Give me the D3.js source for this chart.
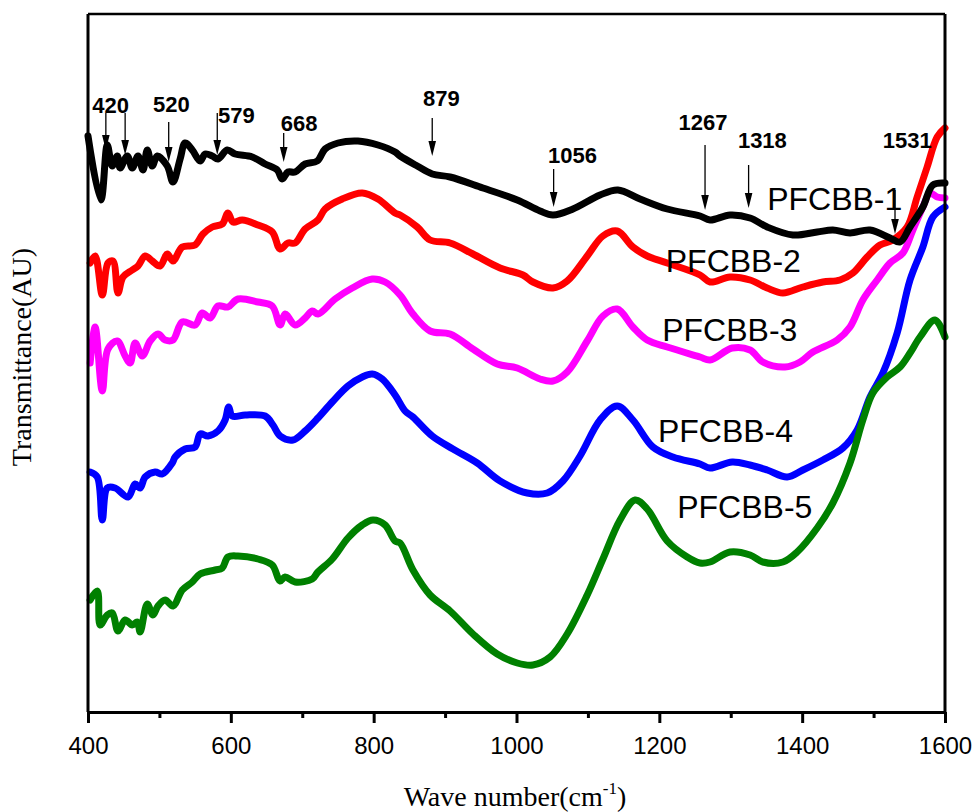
<!DOCTYPE html>
<html>
<head>
<meta charset="utf-8">
<script src="https://cdn.jsdelivr.net/npm/d3@7"></script>
<style>
  body { margin: 0; background: #fff; }
  svg { display: block; }
</style>
</head>
<body>
<div id="chart"></div>
<script>
// wavenumber (cm-1) / transmittance (arbitrary units)
const pfcbb1 = [
  [400,57.6],[418,51.2],[427,56.7],[434,54.6],[441,55.6],[445,54.4],[455,55.6],[462,54.4],[470,55.6],
  [477,54.2],[483,56.2],[490,54.6],[497,55.6],[511,54.6],[519,53.0],[529,55.3],[536,56.9],[546,56.2],
  [557,55.1],[564,55.8],[574,55.6],[582,55.3],[595,56.2],[606,55.8],[630,55.5],[648,54.8],[665,54.2],
  [672,53.3],[680,54.0],[690,54.0],[704,54.8],[721,55.1],[732,56.3],[750,56.9],[778,57.1],[806,56.7],
  [830,56.0],[837,55.6],[861,54.6],[882,53.8],[907,53.5],[953,52.4],[1001,51.2],[1033,50.1],[1051,49.7],
  [1079,50.3],[1117,51.7],[1142,52.2],[1173,51.3],[1211,50.3],[1257,49.6],[1271,49.2],[1299,49.7],
  [1327,49.4],[1351,48.5],[1387,47.7],[1421,48.0],[1443,48.2],[1467,47.9],[1495,48.2],[1523,47.4],
  [1537,47.0],[1551,48.5],[1569,50.5],[1583,52.7],[1600,52.9]
];
const pfcbb2 = [
  [403,44.9],[410,45.6],[420,41.7],[428,44.9],[435,45.1],[442,41.9],[449,43.5],[462,44.2],[470,44.6],
  [480,45.6],[490,45.1],[501,44.6],[511,45.8],[519,45.1],[532,46.5],[550,46.7],[561,47.8],[574,48.5],
  [588,48.8],[596,49.9],[603,49.0],[616,49.2],[638,48.7],[658,48.0],[669,46.3],[680,46.9],[690,46.9],
  [704,48.3],[722,49.2],[732,50.3],[756,51.3],[784,51.9],[806,51.3],[830,49.9],[837,49.7],[861,48.5],
  [879,47.2],[907,46.9],[939,45.8],[977,44.4],[1009,43.7],[1023,43.0],[1051,42.4],[1071,43.1],
  [1099,45.6],[1121,47.6],[1141,48.1],[1163,46.5],[1183,45.6],[1211,44.9],[1257,43.7],[1271,43.0],
  [1299,43.5],[1327,43.2],[1351,42.4],[1373,41.9],[1401,42.5],[1429,43.0],[1453,43.2],[1471,43.9],
  [1491,45.5],[1509,46.7],[1527,47.2],[1547,48.5],[1561,51.5],[1575,54.5],[1589,57.5],[1600,58.4]
];
const pfcbb3 = [
  [403,34.9],[410,38.5],[420,32.1],[428,36.3],[441,37.1],[452,35.6],[459,34.9],[466,36.9],[476,35.6],
  [487,37.1],[498,37.8],[508,37.2],[519,37.2],[532,39.0],[550,38.7],[560,39.9],[571,39.4],[582,40.6],
  [596,40.5],[610,41.3],[638,41.0],[658,40.6],[669,38.7],[676,39.8],[690,38.7],[704,39.4],[714,40.1],
  [722,39.8],[746,41.3],[770,42.4],[798,43.3],[816,43.0],[837,41.7],[855,39.8],[879,38.1],[907,37.8],
  [939,36.3],[973,34.8],[1001,34.4],[1033,33.3],[1051,33.1],[1071,34.0],[1099,37.1],[1121,39.6],
  [1141,40.3],[1163,38.5],[1183,37.2],[1211,36.5],[1257,35.5],[1271,35.2],[1302,36.4],[1327,36.2],
  [1345,35.0],[1376,34.5],[1397,35.0],[1415,36.0],[1449,37.2],[1467,38.5],[1485,41.2],[1505,43.2],
  [1523,44.9],[1541,45.9],[1555,48.2],[1569,50.5],[1579,51.9],[1589,51.5],[1600,51.4]
];
const pfcbb4 = [
  [403,24.0],[413,23.5],[420,19.2],[427,22.4],[438,22.4],[456,21.5],[466,22.8],[473,22.4],[480,23.5],
  [494,24.0],[504,23.8],[518,24.9],[522,25.5],[536,26.3],[550,26.5],[557,27.8],[568,27.6],[582,28.1],
  [592,29.2],[597,30.5],[602,29.6],[620,29.7],[648,29.6],[659,28.7],[669,27.6],[687,27.2],[704,28.1],
  [722,29.4],[742,31.0],[764,32.6],[784,33.5],[798,33.8],[812,33.3],[830,31.7],[844,30.1],[855,29.5],
  [882,27.6],[911,26.3],[945,24.9],[977,23.1],[1015,21.9],[1043,21.9],[1065,23.1],[1089,25.6],
  [1117,29.2],[1141,30.6],[1163,29.2],[1191,26.5],[1219,25.5],[1257,24.8],[1271,24.4],[1302,25.0],
  [1327,24.7],[1351,24.2],[1379,23.5],[1401,24.2],[1429,25.2],[1457,26.4],[1477,28.2],[1495,31.5],
  [1513,33.9],[1533,37.9],[1551,43.2],[1569,46.5],[1583,49.5],[1600,50.5]
];
const pfcbb5 = [
  [403,11.2],[413,12.1],[417,8.7],[427,9.7],[434,9.9],[442,8.1],[452,9.2],[462,8.7],[469,9.0],
  [473,8.0],[483,10.8],[491,9.7],[498,10.6],[508,11.2],[519,10.6],[532,12.2],[546,13.0],[557,13.8],
  [578,14.2],[588,14.4],[596,15.5],[610,15.6],[638,15.3],[658,14.7],[669,13.1],[676,13.5],[690,13.0],
  [714,13.3],[722,14.0],[742,15.3],[764,17.4],[784,18.7],[799,19.2],[816,18.7],[830,17.1],[837,16.9],
  [855,14.2],[879,11.7],[907,10.1],[939,7.8],[973,5.8],[1001,4.9],[1023,4.7],[1047,5.5],[1071,7.8],
  [1099,11.7],[1121,15.3],[1145,19.2],[1166,21.2],[1183,20.3],[1211,17.1],[1239,15.5],[1257,14.9],
  [1271,15.0],[1299,16.0],[1327,15.7],[1345,15.0],[1373,15.0],[1393,16.0],[1421,18.4],[1443,20.9],
  [1467,24.9],[1485,29.2],[1499,31.9],[1519,33.5],[1537,34.5],[1551,35.9],[1565,37.5],[1586,39.2],
  [1600,37.5]
];

const seriesNames = ["PFCBB-1", "PFCBB-2", "PFCBB-3", "PFCBB-4", "PFCBB-5"];
const seriesData = [pfcbb1, pfcbb2, pfcbb3, pfcbb4, pfcbb5];
const seriesColors = ["#000000", "#ff0000", "#ff00ff", "#0000ff", "#008000"];
// where each series name sits: [wavenumber of left edge, transmittance of baseline]
const nameAnchors = [[1351, 50.2], [1209, 44.0], [1204, 37.1], [1198, 27.0], [1225, 19.4]];

const xMajor = [400, 600, 800, 1000, 1200, 1400, 1600];
const xMinor = [500, 700, 900, 1100, 1300, 1500];

// band labels: text, label left (cm-1), label baseline (AU), arrow x (cm-1), arrow top, arrow tip
const bandLabels = ["420", "520", "579", "668", "879", "1056", "1267", "1318", "1531"];
const bandLabelX = [406, 491, 582, 670, 869, 1044, 1227, 1310, 1513];
const bandLabelY = [59.9, 60.0, 58.9, 58.1, 60.6, 54.9, 58.2, 56.4, 56.4];
const arrowX   = [[425, 452], [513], [581], [674], [882], [1052], [1264], [1325], [1530]];
const arrowTop = [[59.9, 59.9], [59.0], [59.9], [57.9], [59.4], [54.3], [56.7], [54.7], [52.2]];
const arrowTip = [[56.2, 55.7], [55.0], [55.7], [55.0], [55.6], [50.5], [50.2], [50.4], [47.8]];

const W = 977, H = 812;
const mLeft = 88, mRight = 945, mTop = 14, mBottom = 712;

const svg = d3.select("#chart").append("svg")
    .attr("width", W)
    .attr("height", H);

const x = d3.scaleLinear().domain([400, 1600]).range([mLeft, mRight]);
const y = d3.scaleLinear().domain([0, 69.8]).range([mBottom, mTop]);

const line = d3.line()
    .x(d => x(d[0]))
    .y(d => y(d[1]))
    .curve(d3.curveCatmullRom.alpha(0.5));

// draw order so the crossings overlap like the original
const order = [3, 4, 2, 1, 0];
order.forEach(i => {
    svg.append("path")
        .datum(seriesData[i])
        .attr("fill", "none")
        .attr("stroke", seriesColors[i])
        .attr("stroke-width", 7)
        .attr("stroke-linejoin", "round")
        .attr("stroke-linecap", "round")
        .attr("d", line);
});

// frame
svg.append("line").attr("x1", mLeft).attr("x2", mRight).attr("y1", mTop).attr("y2", mTop)
    .attr("stroke", "#000").attr("stroke-width", 2.5);
svg.append("line").attr("x1", mRight).attr("x2", mRight).attr("y1", mTop).attr("y2", mBottom)
    .attr("stroke", "#000").attr("stroke-width", 3);
svg.append("line").attr("x1", mLeft).attr("x2", mLeft).attr("y1", mTop).attr("y2", mBottom)
    .attr("stroke", "#000").attr("stroke-width", 3);

// bottom axis
const xAxis = svg.append("g")
    .attr("transform", `translate(0,${mBottom})`)
    .call(d3.axisBottom(x).tickValues(xMajor).tickSize(11).tickPadding(14).tickSizeOuter(0)
        .tickFormat(d3.format("d")));
xAxis.select(".domain").attr("stroke-width", 3);
xAxis.selectAll(".tick line").attr("stroke-width", 3);
xAxis.selectAll("text")
    .attr("font-family", "Liberation Sans, Arial, sans-serif")
    .attr("font-size", 24)
    .attr("fill", "#000");

const xMinorAxis = svg.append("g")
    .attr("transform", `translate(0,${mBottom})`)
    .call(d3.axisBottom(x).tickValues(xMinor).tickSize(6).tickFormat(""));
xMinorAxis.select(".domain").remove();
xMinorAxis.selectAll(".tick line").attr("stroke-width", 3);

// axis titles
const xTitle = svg.append("text")
    .attr("x", 515)
    .attr("y", 806)
    .attr("text-anchor", "middle")
    .attr("font-family", "Liberation Serif, Times New Roman, serif")
    .attr("font-size", 28)
    .attr("fill", "#000");
xTitle.append("tspan").text("Wave number(cm");
xTitle.append("tspan").attr("font-size", 17).attr("dy", -12).text("-1");
xTitle.append("tspan").attr("dy", 12).text(")");

svg.append("text")
    .attr("transform", `translate(31,357) rotate(-90)`)
    .attr("text-anchor", "middle")
    .attr("font-family", "Liberation Serif, Times New Roman, serif")
    .attr("font-size", 28)
    .attr("fill", "#000")
    .text("Transmittance(AU)");

// series names
seriesNames.forEach((name, i) => {
    svg.append("text")
        .attr("x", x(nameAnchors[i][0]))
        .attr("y", y(nameAnchors[i][1]))
        .attr("font-family", "Liberation Sans, Arial, sans-serif")
        .attr("font-size", 32)
        .attr("fill", "#000")
        .text(name);
});

// band annotations with arrows
bandLabels.forEach((lab, i) => {
    svg.append("text")
        .attr("x", x(bandLabelX[i]))
        .attr("y", y(bandLabelY[i]))
        .attr("font-family", "Liberation Sans, Arial, sans-serif")
        .attr("font-weight", "bold")
        .attr("font-size", 22)
        .attr("fill", "#000")
        .text(lab);
    arrowX[i].forEach((ax, j) => {
        const px = x(ax), y0 = y(arrowTop[i][j]), y1 = y(arrowTip[i][j]);
        svg.append("line")
            .attr("x1", px).attr("x2", px)
            .attr("y1", y0).attr("y2", y1 - 10)
            .attr("stroke", "#000").attr("stroke-width", 1.3);
        svg.append("path")
            .attr("d", `M${px - 3.8},${y1 - 15} L${px + 3.8},${y1 - 15} L${px},${y1} Z`)
            .attr("fill", "#000");
    });
});
</script>
</body>
</html>
